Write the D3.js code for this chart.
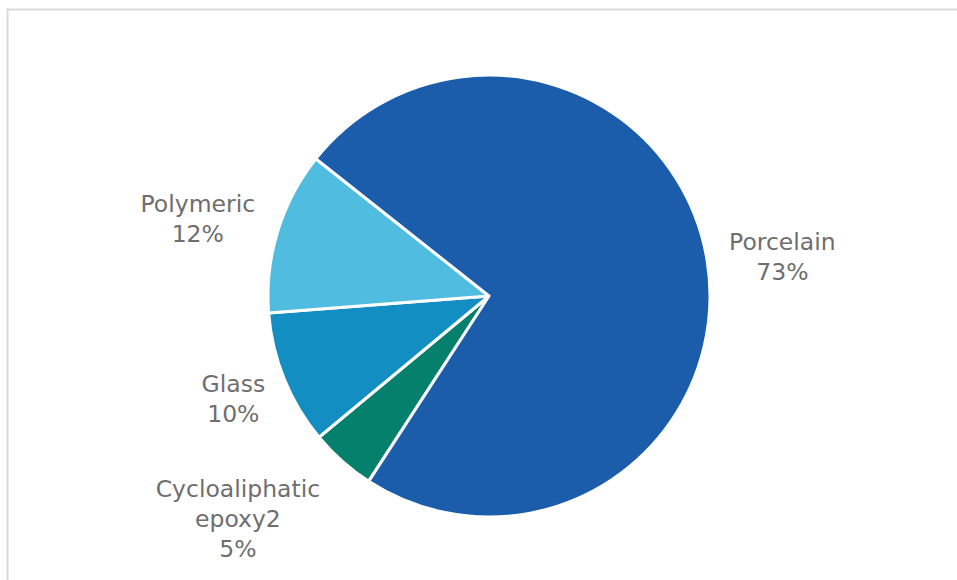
<!DOCTYPE html>
<html>
<head>
<meta charset="utf-8">
<script src="https://cdn.jsdelivr.net/npm/d3@7"></script>
<style>
  body { margin: 0; background: #fff; }
  svg { display: block; }
</style>
</head>
<body>
<div class="container"></div>
<script>
// slice data, clockwise order starting at lower left
const categories = ["Cycloaliphatic epoxy2", "Glass", "Polymeric", "Porcelain"];
const values = [4.8, 9.8, 11.9, 73.5];
const labelLines = [["Cycloaliphatic", "epoxy2", "5%"], ["Glass", "10%"], ["Polymeric", "12%"], ["Porcelain", "73%"]];
const colors = ["#04806c", "#138ec3", "#50bce0", "#1b5daa"];

const w = 957, h = 580;
const cx = 489, cy = 296, r = 221;
const lineH = 30;
// small hand nudges so labels sit where excel's best-fit put them
const labelNudge = [[-35, 9], [-1, 2], [-4, 4], [1, 7]];

const svg = d3.select(".container").append("svg")
  .attr("width", w)
  .attr("height", h);

// chart frame (runs off right and bottom)
svg.append("rect")
  .attr("x", 7.5).attr("y", 9.5)
  .attr("width", 1000).attr("height", 700)
  .attr("fill", "none")
  .attr("stroke", "#d9d9d9")
  .attr("stroke-width", 2);

const start = 213 * Math.PI / 180;
const pie = d3.pie().sort(null).startAngle(start).endAngle(start + 2 * Math.PI);
const arcs = pie(values);
const arc = d3.arc().innerRadius(0).outerRadius(r);

const g = svg.append("g").attr("transform", `translate(${cx},${cy})`);

g.selectAll("path")
  .data(arcs)
  .enter()
  .append("path")
  .attr("d", arc)
  .attr("fill", (d, i) => colors[i])
  .attr("stroke", "#fff")
  .attr("stroke-width", 3)
  .attr("stroke-linejoin", "round");

// labels: put text box just outside the arc along mid angle
const labels = g.selectAll("text.lbl")
  .data(arcs)
  .enter()
  .append("text")
  .attr("class", "lbl")
  .attr("text-anchor", "middle")
  .attr("font-family", "'DejaVu Sans', sans-serif")
  .attr("font-size", 23.5)
  .attr("fill", "#6e6e6e");

labels.each(function (d, i) {
  const t = d3.select(this);
  labelLines[i].forEach((s, k) => {
    t.append("tspan").attr("x", 0).attr("dy", k === 0 ? 0 : lineH).text(s);
  });
  const bb = this.getBBox();
  const a = (d.startAngle + d.endAngle) / 2;
  const pad = 22;
  const bh = labelLines[i].length * lineH;
  const px = Math.sin(a) * (r + pad) + Math.sin(a) * bb.width / 2 + labelNudge[i][0];
  const py = -Math.cos(a) * (r + pad) - Math.cos(a) * bh / 2 + labelNudge[i][1];
  t.selectAll("tspan").attr("x", px);
  t.attr("transform", `translate(0,${py - bh / 2 + lineH * 0.72})`);
});
</script>
</body>
</html>
